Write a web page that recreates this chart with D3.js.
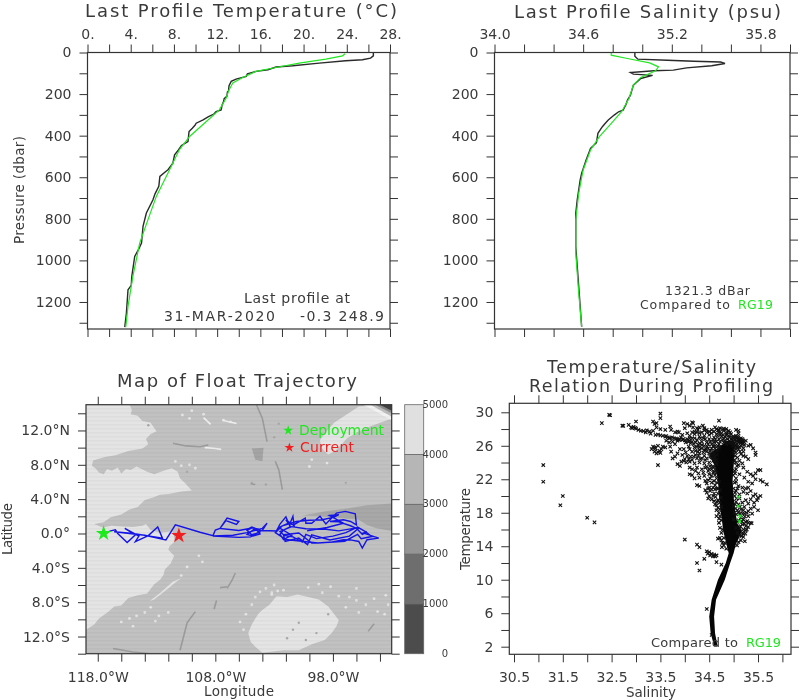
<!DOCTYPE html>
<html><head><meta charset="utf-8">
<script src="https://cdn.jsdelivr.net/npm/d3@7"></script>
<style>
html,body{margin:0;padding:0;background:#fff}
svg{display:block;filter:blur(.35px)}
text{font-family:"DejaVu Sans",sans-serif;fill:#3a3a3a;font-weight:400}
.ax path{display:none}
.ax line{stroke:#333;stroke-width:1}
</style></head><body><svg id="c" width="800" height="700"></svg>
<script>
// ---------- Profile data ----------
const tempObsP=[3,16,27,35,40,51,64,70,83,91,103,108,115,128,139,160,185,190,211,222,235,255,276,284,296,308,324,340,350,364,380,405,428,447,470,492,532,564,570,596,644,680,708,772,836,917,945,981,1077,1120,1141,1253,1321];
const tempObsV=[26.46,26.46,26.2,25.45,23.9,21.45,19,17.45,16.7,15.6,14.8,14.75,14.7,13.75,13.3,13.1,13.05,12.95,12.9,12.65,12.6,12.45,12.37,11.9,11.7,11.2,10.7,10.06,9.95,9.7,9.4,9.35,9.3,8.7,8.4,8.06,7.9,7.45,7.3,6.7,6.6,6.25,6.06,5.45,5.14,5,4.75,4.37,4.1,4.05,3.75,3.6,3.45];
const tempRefP=[6,16,32,51,72,91,120,147,180,220,276,332,404,468,564,692,804,917,1077,1221,1321];
const tempRefV=[23.85,23.6,22.06,19.6,17.45,15.6,14.37,13.45,13.1,12.83,12.2,11,9.45,8.5,7.6,6.37,5.6,4.83,4.2,3.75,3.54];
const salObsP=[0,18,32,37,42,46,53,64,74,85,88,96,104,110,125,157,205,229,250,277,285,301,325,340,357,389,434,461,517,581,613,709,773,933,1029,1125,1320];
const salObsV=[34.95,34.95,34.97,35.17,35.35,35.53,35.56,35.47,35.3,35.21,35.08,34.92,34.94,35.07,34.99,34.94,34.92,34.9,34.89,34.87,34.84,34.81,34.77,34.75,34.73,34.7,34.69,34.65,34.62,34.59,34.58,34.56,34.55,34.55,34.56,34.57,34.59];
const salRefP=[0,13,29,50,69,88,120,157,221,285,349,405,469,565,677,805,965,1157,1320];
const salRefV=[34.79,34.79,34.9,35.05,35.11,35.09,34.99,34.94,34.91,34.86,34.78,34.71,34.65,34.6,34.57,34.55,34.55,34.57,34.59];
const pressureTicks=[0,100,200,300,400,500,600,700,800,900,1000,1100,1200,1300];
const pressureLabels=[0,200,400,600,800,1000,1200];
const tempTicks=[0,2,4,6,8,10,12,14,16,18,20,22,24,26,28];
const tempLabels=[0,4,8,12,16,20,24,28];
const salTicks=[34,34.2,34.4,34.6,34.8,35,35.2,35.4,35.6,35.8,36];
const salLabels=[34,34.6,35.2,35.8];

// ---------- Map data (lon, lat) ----------
const lonTicks=[-118,-116,-114,-112,-110,-108,-106,-104,-102,-100,-98,-96,-94];
const lonLabels=[-118,-108,-98];
const latTicks=[-14,-12,-10,-8,-6,-4,-2,0,2,4,6,8,10,12,14];
const latLabels=[-12,-8,-4,0,4,8,12];
const depthLevels=[0,1000,2000,3000,4000,5000];
const depthShades=["#4c4c4c","#6e6e6e","#959595","#b6b6b6","#e0e0e0"];
const lightWest=[[-119,15],[-115.3,15],[-115.1,14.4],[-115.2,13.9],[-114.6,13.7],[-114.2,13.1],[-113.5,12.9],[-113.2,12.3],[-113,11.9],[-113.5,11.6],[-113.9,11],[-113.7,10.4],[-114.2,9.9],[-115.4,9.6],[-116.5,9.1],[-117.4,8.9],[-118.4,8.5],[-118.5,7.9],[-118.2,7.6],[-117.9,7.1],[-117.5,6.9],[-117.2,7.5],[-116.8,7.3],[-116.3,7.7],[-116,7],[-115.6,7.5],[-115.2,7.4],[-114.7,7.8],[-113.8,7.2],[-113.2,6.9],[-112.4,7.3],[-111.7,7.6],[-111.2,7.2],[-111,6.4],[-110.6,5.9],[-110.2,5.3],[-110,5],[-110.9,4.9],[-112,4.6],[-112.7,4.5],[-113.3,4.2],[-114,3.9],[-114.6,3.1],[-115.3,2.8],[-116,2.2],[-116.9,1.9],[-117.5,1.3],[-118.3,1.1],[-117.6,0.7],[-116.8,.9],[-116,0.8],[-115,.75],[-114.2,0.9],[-113.9,1.1],[-113.5,0.4],[-112.7,.1],[-112,0.2],[-111.6,0.2],[-111.5,-.5],[-111.5,-1],[-111.9,-1.5],[-112,-1.9],[-111.5,-2.6],[-111.8,-3.5],[-112.3,-4.2],[-112.4,-4.8],[-112.7,-5.4],[-113.2,-5.9],[-113.8,-7],[-114.6,-7.2],[-115.4,-7.5],[-116,-8.4],[-116.6,-8.5],[-117.1,-9.1],[-117.9,-9.9],[-118.3,-10.6],[-119,-11.2]];
const lightStreak=[[-110.9,-5.2],[-111.6,-5.6],[-112.6,-6.8],[-113.6,-7.9],[-113.2,-7.7],[-112.2,-6.6],[-111.4,-5.7]];
const lightSouthEast=[[-105.2,-11.6],[-104.9,-10.6],[-104.6,-9.9],[-104.3,-9.3],[-104,-8.9],[-103.4,-8.3],[-102.8,-7.3],[-101.9,-7.4],[-101,-7.1],[-100.1,-7.4],[-99.2,-7.7],[-98.4,-8.5],[-98,-9.2],[-97.5,-10.1],[-97.7,-10.8],[-98.1,-11.6],[-98.7,-12.4],[-99.8,-12.9],[-100.9,-13.6],[-102.2,-13.6],[-104,-13.9],[-104.6,-13.2],[-105,-12.6]];
const lightNorthEast=[[-95.8,14.8],[-96.8,13.9],[-97.9,12.9],[-98.6,11.8],[-99.1,10.9],[-99,10],[-98.4,9.2],[-97.8,9.6],[-97.3,10.3],[-96.8,11.1],[-95.8,11.9],[-94.8,12.5],[-93,13.4],[-93,15]];
const lightSpeckles=[[-104.6,-7.4],[-104.2,-6.8],[-103.7,-6.4],[-103.2,-6.9],[-102.7,-6.7],[-104.9,-8.3],[-105.4,-9.4],[-105.9,-10.3],[-105.6,-11.2],[-103,-6],[-100.1,-6.3],[-99.2,-5.9],[-98.2,-6.2],[-96.6,-7.4],[-96,-7.8],[-95.2,-8.3],[-94.5,-7.6],[-93.5,-7.2],[-93.3,-8.3],[-93.6,-9.4],[-94.2,-9.1],[-96,-6.4],[-109.4,-2.6],[-109.1,-3.3],[-110.4,-3.9],[-110.9,-4.9],[-112,-9.2],[-112.8,-9.6],[-110.8,13.8],[-110.2,13.4],[-110,14.3],[-109,13.9],[-107.3,13.2],[-106.7,13],[-110.9,7.9],[-110.2,8],[-109.7,7.6],[-111.4,8.4],[-98.5,8.2],[-100,7.8],[-99.8,8.6],[-113.5,-8.6],[-114,-9.2],[-114.7,-9.6],[-115.3,-9.9],[-115,-10.8],[-116,-10.3],[-113.1,-10.2],[-103.2,-7.1],[-102.2,-6.6],[-98.9,-6.9],[-97.5,-7.3],[-96.9,-8.6],[-95.8,-9.2]];
const darkSpeckles=[[-100.9,-10.4],[-101.4,-11.2],[-100.3,-12.4],[-101.9,-12.2],[-99.4,-11.6],[-98.4,-9.4],[-113.7,12.6],[-110.4,7.2],[-103.7,5.7],[-104.9,5.9],[-96.9,5.9],[-103,11.2],[-102.6,12.8]];
const basinEast=[[-93,3.5],[-95.1,3.3],[-96.8,2.9],[-98.6,2.6],[-100.6,2.1],[-99.1,2],[-95.8,1.6],[-95.1,1],[-94.3,.6],[-93,.3]];
const ridgeLines=[[[-104.5,15],[-104,13.4],[-103.6,10.7]],[[-102.9,8.4],[-102.6,7.4],[-102.3,5.1]],[[-111.6,10.5],[-110.5,10.2],[-109.3,10.1],[-108.6,10.3]],[[-106.3,-4.6],[-106.6,-5.5],[-107,-6.4]],[[-107.9,-7.8],[-108.1,-8.8]],[[-109.7,-9.1],[-110.4,-10.4],[-111,-13.6]],[[-116.7,-13.4],[-115,-13.8],[-113.5,-14]],[[-94.5,-10.5],[-95,-11.4]],[[-105,5.8],[-104.6,5.7]],[[-107,-6.2],[-107.6,-6.3]]];
const whiteStreaks=[[[-108.9,10],[-108,9.9],[-107.5,9.8]],[[-109,13.5],[-108.4,12.7]],[[-107.4,13.2],[-106.2,12.8]]];
const ridgeBlob=[[-104.9,9.9],[-103.9,10],[-104,8.4],[-104.6,8.6]];
const cornerBands=[[[-95.4,15],[-93,15],[-93,13.2]],[[-94.8,15],[-93,15],[-93,13.6]],[[-94.4,15],[-93,15],[-93,14]],[[-94,15],[-93,15],[-93,14.3]]];
const cornerShades=["#f2f2f2","#bdbdbd","#8a8a8a","#404040"];
const track=[[-117.5,0],[-116.9,.3],[-116.5,.43],[-116.3,0],[-115.5,-1.05],[-114.8,-.15],[-115.7,.6],[-114.5,-.3],[-114.8,-.95],[-113.7,-.25],[-112.9,.75],[-112.5,-.55],[-115,0],[-116.6,.2],[-114,-.2],[-112.2,-.75],[-111.4,1],[-109.3,.15],[-108.2,-.25],[-108,.4],[-107.6,.6],[-107,1.8],[-106,1.4],[-106.2,1.05],[-107.1,1.5],[-107.6,.6],[-106,.35],[-105.2,.55],[-104.9,.75],[-104.6,.6],[-104.3,.1],[-104.9,-.15],[-105.3,.35],[-104.9,.65],[-104.3,.5],[-104.2,-.05],[-104.8,-.3],[-105.3,-.1],[-104.7,.5],[-104.1,.35],[-105,-.4],[-106,-.45],[-108.2,-.3],[-106.5,-.2],[-105.3,.1],[-104,.6],[-103.6,1.2],[-104,.35],[-102.8,.3],[-102.5,1.1],[-102,1.95],[-101.7,1],[-101.4,2],[-101.3,.9],[-102,1.6],[-101.6,.8],[-102.2,.4],[-102.5,-.1],[-102.2,-.7],[-101.5,-.2],[-102.6,.7],[-101.8,1.2],[-101.35,1],[-100.35,1.8],[-100.3,1.2],[-99.8,1.2],[-99.1,2],[-98.6,1.1],[-98.25,1.6],[-97.7,2.38],[-96.95,2.57],[-96.1,2.3],[-96,1],[-96.5,1.4],[-97.1,1.6],[-98.25,1.4],[-97.5,1.35],[-96.5,.9],[-96,.6],[-95.5,-.1],[-95.1,.2],[-95.4,.05],[-94.1,-.54],[-95.1,-.73],[-95.5,-1.7],[-95.8,-.93],[-96.5,-.75],[-97.1,-.73],[-98.25,-1.04],[-99.8,-1.12],[-100.9,.05],[-102.2,-.15],[-102.5,.24],[-101.5,.8],[-100.3,.55],[-98.6,.5],[-97.5,.3],[-96,.65],[-95.8,.63],[-96.6,-.3],[-98.25,-.75],[-99.8,-.15],[-100.16,-1.3],[-100.9,-.54],[-102.06,-.93],[-102.2,-.2],[-101.4,-.4],[-100.6,-1],[-100.3,-.1],[-99.4,-.6],[-98,-.3],[-96.9,.1],[-95.9,.75],[-95.2,.2],[-94.7,-.35],[-95.6,-.6],[-95.9,-.1],[-97,-.9],[-99.3,-1.1],[-102,-.7],[-102.9,.1],[-102.3,.9],[-101.1,1.4],[-100,1.55],[-98.9,1.6],[-97.9,1.9],[-97.5,2.2],[-98.3,2.1],[-97.1,1.2],[-98.5,.7],[-100.2,.3]];
const deployLon=[-117.5], deployLat=[0];
const currentLon=[-111.1], currentLat=[-.25];

// ---------- T/S diagram ----------
const tsSalTicks=[30.5,31,31.5,32,32.5,33,33.5,34,34.5,35,35.5,36];
const tsSalLabels=[30.5,31.5,32.5,33.5,34.5,35.5];
const tsTempTicks=[2,4,6,8,10,12,14,16,18,20,22,24,26,28,30];
const tsTempLabels=[2,6,10,14,18,22,26,30];
const tsCoreT=[2.1,3.6,5.6,7.6,10,12,13.15,14.3,15.1,15.9,16.7,17.9,19.9,21.9,23.5,25,25.6,26,26.6];
const tsCoreLeftS=[34.6,34.53,34.5,34.55,34.68,34.84,34.9,34.85,34.82,34.78,34.77,34.74,34.7,34.68,34.62,34.5,34.64,34.74,34.86];
const tsCoreRightS=[34.67,34.62,34.6,34.64,34.82,34.93,35,35.05,35.12,35.17,35.08,35.04,35,34.98,35,35.02,35.02,35.05,35];
const tsPoints=[[31.1,23.7],[31.1,21.7],[31.5,20],[31.45,18.9],[32,17.4],[32.15,16.85],[32.3,28.7],[32.45,29.7],[32.47,29.65],[33,28.9],[33.35,28.9],[33.5,29.85],[33.5,29.3],[33.42,28.7],[34.7,29],[33.45,23.7],[34,14.8],[34.25,14.2],[34.3,13.9],[34.25,12],[34.3,11.1],[34.4,12.5],[34.65,12.1],[34.75,11.8],[34.68,14.9],[34.75,14.7],[34.45,6.5],[34.55,3.4],[34.45,13.4],[34.5,13.3],[34.55,13.1],[34.6,13],[34.65,12.9],[34.47,13.1],[34.52,12.9],[34.58,12.8],[34.62,12.8],
[32.72,28.4],[32.74,28.38],[32.85,28.5],[32.9,28.2],[32.92,28.1],[32.95,28.25],[32.98,28.15],[33,28.05],[33.05,27.9],[33.1,27.8],[33.15,27.75],[33.2,27.6],[33.22,27.85],[33.28,27.7],[33.3,27.45],[33.35,27.8],[33.4,27.3],[33.42,28.2],[33.45,27.35],[33.5,27.25],[33.5,28],[33.55,27.2],[33.6,27.1],[33.65,27],[33.7,26.95],[33.72,27.9],[33.78,26.9],[33.8,27.6],[33.85,26.8],[33.9,26.75],[33.95,26.7],[34,26.65],[34.05,26.8],[34.1,26.6],[34.15,26.9],[33.85,26.6],[33.92,27],[34.02,26.4],[34.12,26.3],[33.62,27.15],[33.68,26.9],[33.74,27],[33.82,26.85],[33.88,26.7],[33.97,26.8],[34.07,26.5],
[33.32,25.6],[33.35,25.9],[33.38,25.3],[33.4,25.7],[33.42,25.1],[33.45,26],[33.48,25.4],[33.5,25.15],[33.52,25.6],[33.55,25.9],[33.38,25.8],[33.45,25.25],[33.7,25.9],[33.72,25.3],[33.75,24.5],[33.8,24.7],[33.85,25.1],[33.9,25.6],[33.95,24.9],[33.85,23.8],[33.9,23.6],[34,24.4],[34.05,24.8],[34.1,24.1],[34.15,25.3],[34.2,25.8],[34.25,24.5],[34.3,25.1],[34.1,25.6],[34.2,23.9],[34.25,23.4],[34.3,24],[34.35,24.5],[34.35,23.2],[34.1,22.6],[34.15,22.5],[34.2,22.1],[34.3,22.2],[34.25,21.3],[34.3,21.2],[34.4,22.4],[34.45,21.5],[34.5,21],[34.45,20.4],[34.5,20],[34.55,19.6],[34.6,19.4],[34.65,18.9],[34.7,18],[34.55,20.8],[34.6,21.8],[34.48,23],[34.55,22.4],[34.62,23.2],[34.4,24.8],[34.45,25.3],[34.5,24],[34.55,25.7],[34.6,24.5],[34.65,22.1],[34.68,20.3],[34.72,19.2],[34.7,16.8],[34.72,16.2],[34.75,15.6],[34.68,20.9],[34.52,23.6],[34.4,26],[34.35,26.5],[34.3,26.3],[34.25,26.7],[34.2,26.9],[34.18,26.2],[34.45,26.4],[34.5,26.8],[34.55,26.2],[34.6,27],[34.65,26.5],[34.7,26.2],[34.75,27.1],[34.8,26.4],[34.85,27.3],[34.4,27.2],[34.45,27.6],[34.5,27.3],[34.55,27.5],[34.6,27.7],[34.65,27.4],[34.7,27.6],[34.75,27.5],[34.8,27.8],[34.85,27.5],[34.9,27.2],[34.95,27.4],[35,27.1],[35.05,27.2],[35.1,27],[35.12,26.8],[35.15,26.9],[35.18,26.5],[35.2,26.3],[35.18,26.8],[35.12,26.5],[35.08,26.7],[35,26.5],[34.95,26.8],[34.9,26.3],[34.8,26.9],[34.7,26.8],[34.62,28.2],[34.65,28],[34.7,27.9],[34.78,27.95],[34.85,28],[34.9,27.8],[35.05,27.9],[35.1,27.8],[35.1,27.5],[34.72,28.1],[34.68,27.85],[34.8,28.05],
[33.38,28.6],[33.98,28.7],[34.05,28.6],[34.15,28.8],[34.17,28.7],[34.1,28.4],[34.37,28.4],[34.3,28.2],[34.25,28.1],[33.6,27.9],[33.7,28.3],[33.85,27.7],[33.88,27.6],[34,28.1],[34.17,28.2],[34.27,27.9],[34.4,28.1],[34.4,27.85],[34.05,27.5],[34.1,27.2],[34.2,27.4],[34.3,27.1],[34.35,27.6],[33.95,27.3],
[35.3,26],[35.4,25.7],[35.45,25.2],[35.45,24.9],[35.35,26.1],[35.25,26.6],[35.1,25.6],[35.15,25],[35.2,24.8],[35.25,24.7],[35.3,24.4],[35.05,25.2],[35.08,24.6],[35.12,24.2],[35.18,23.9],[35.1,23.7],[35.05,23.2],[35.2,23.4],[35.28,22.9],[35.35,22.6],[35.4,22.4],[35.45,22.7],[35.5,23.1],[35.55,23.1],[35.45,22],[35.55,21.9],[35.6,21.7],[35.68,21.4],[35.38,21.5],[35.3,21.7],[35.22,22.2],[35.12,22.6],[35.05,22.1],[35.1,21.2],[35.18,21],[35.25,20.9],[35.3,21],[35.35,20.6],[35.28,20.3],[35.2,20.5],[35.12,20.2],[35.05,20.6],[35.4,20],[35.45,20.2],[35.5,19.8],[35.55,20],[35.48,19.5],[35.42,19.2],[35.35,19.6],[35.3,19.1],[35.25,19.5],[35.18,19.2],[35.12,19.7],[35.05,19.3],[35,18.8],[35.08,18.3],[35.15,18.4],[35.22,18.7],[35.3,18.2],[35.35,18.5],[35.42,18.7],[35.5,18.3],[35.38,17.9],[35.3,17.6],[35.22,17.9],[35.15,17.4],[35.05,17.8],[35.1,17.1],[35.2,17.2],[35.28,17],[35.35,16.8],[35.37,16.75],[35.18,16.6],[35.25,16.4],[35.08,16.9],[35,17.2],[35.05,16.2],[35.12,16.1],[35.2,16],[35.18,15.6],[35.12,15.3],[35.25,15.9],[35.3,16.3],[35.02,18],[35.03,19],[35.02,20],[35,20.9],[35.02,21.6],[34.99,22.5],[35.02,23],[35,24],[35.03,24.8],[35.05,25.9],[34.98,26],[35,25.2],[34.58,25.3],[34.5,25.1],[34.55,24.9],[34.6,25],[34.45,24.5],[34.52,24.7],[34.62,24.2],[34.65,23.8],[34.6,23.5],[34.65,22.8],[34.62,22.5],[34.7,21.7],[34.72,20.7],[34.74,19.8],[34.75,18.7],[34.72,17.6],[34.75,17.1],[34.78,16],[34.8,15],[34.82,14.4],[34.85,13.7],[35.2,15.5],[35.23,14.6],[35.15,14.7],[35.07,14.1],[34.3,25.5],[34.35,25.7],[34.22,24.9],[34.28,24.8],[34.4,23.9],[34.45,23.5],[34.38,22.8],[34.5,22.6],[34.55,23.2],[34.58,21],[34.6,20.3],[34.62,20.8],[34.48,19.7],[34.68,19.5],[34.65,17.6],[34.02,25.2],[33.98,25.6],[34.08,25.9],[33.8,26.2],[33.75,26.5],[33.68,26.4],[33.62,26.6],[33.6,25.8],
[34.6,26.4],[34.63,26.8],[34.67,27.2],[34.72,26.5],[34.73,27.3],[34.77,26.7],[34.78,27.3],[34.82,26.6],[34.83,27.05],[34.85,26.2],[34.87,26.8],[34.88,27.6],[34.92,26.6],[34.92,27],[34.93,27.6],[34.96,26.3],[34.97,27],[34.98,26.7],[35,26.9],[35.02,26.3],[35.03,26.7],[35.03,27],[35.05,26.5],[35.06,26.9],[35.07,26.2],[35.08,27.1],[35.1,26.4],[35.1,26.75],[35.13,26.65],[35.14,26.3],[35.16,26.6],[35.17,26.2],[35.19,26.65],[35.21,26.5],[35.22,26.1],[35.03,26.05],[35.08,25.9],[35.12,25.85],[35.15,26],[35.2,25.7],[35.05,25.6],[35.02,25.45],[35.13,25.3],[35.2,25.3],[35.02,24.3],[35.05,24],[35.07,23.6],[35.03,22.7],[35.05,21.7],[35.08,20.9],[35.03,20.4],[35.04,18.5],[35.1,18],[35.06,19.7],[35.1,19],[35.13,18.7],[35.18,17.9],[35.13,17.9],[35.17,16.95],[35.23,17.55],[35.27,18],[35.2,18.3],[35.25,16.9],[35.3,16.8],[35.14,16.4],[35.22,16.7],[35.24,15.5],[35.2,15.1],[35.16,15.2],[35.08,15.6],[35.1,14.5],[35.27,16],
[34.62,25.7],[34.66,25.4],[34.7,25.6],[34.72,25.9],[34.55,24.6],[34.58,24.2],[34.62,24.7],[34.65,24.3],[34.66,24.9],[34.52,25.4],[34.48,25.7],[34.43,25.6],[34.38,25.2],[34.42,24.3],[34.32,24.4],[34.27,25.3],[34.22,25.4],[34.18,24.7],[34.15,24.3],[34.12,24.7],[34.08,24.4],[34.03,24],[33.98,24.2],[33.93,24.1],[34.1,23.4],[34.15,23.2],[34.22,23],[34.28,22.7],[34.42,23.4],[34.5,23.2],[34.57,23.5],[34.58,22.8],[34.6,22.9],[34.52,22.1],[34.48,21.9],[34.42,21.8],[34.55,21.6],[34.62,21.3],[34.66,21.6],[34.65,20.9],[34.52,20.6],[34.48,20.9],[34.42,20.7],[34.58,20],[34.63,19.9],[34.66,19.3],[34.62,19],[34.68,18.6],[34.65,18.3],[34.72,18.4],[34.7,17.3],[34.72,15],[34.77,14.4],[34.8,14.1],[34.76,13.9],
[34.2,27.7],[34.25,27.6],[34.3,27.5],[34.15,27.6],[34.45,27.9],[34.5,27.7],[34.55,27.9],[34.42,26.8],[34.48,26.2],[34.52,26.5],[34.58,26.7],[34.32,26.9],[34.38,26.9],[34.28,26.1],[34.22,26.4],[34.15,26.5],[34.1,26.9],[34.25,25.9],[34.3,25.8],[34.4,25.5],[34.46,25.9],[34.35,26.1],[34.62,26],[34.68,25.95],[34.58,25.95]];
const tsRefPoints=[[35.1,18.8],[35.13,17.6],[35.1,19.9],[35.12,17]];

// ---------- Drawing ----------
const svg=d3.select("#c");
const fmt=(labels,f)=>d=>labels.some(l=>Math.abs(l-d)<1e-6)?f(d):"";
function axes(g,x,y,xt,xf,yt,yf,topLabels,bottomLabels){
  const l=d3.min(x.range()),r=d3.max(x.range()),t=d3.min(y.range()),b=d3.max(y.range());
  const none=()=>"";
  const mk=(a,tr,vals,f,pad)=>{const s=g.append("g").attr("class","ax").attr("transform",tr).call(a.tickValues(vals).tickFormat(f).tickSizeOuter(0).tickPadding(pad));s.selectAll("text").style("font-size","14px");return s;};
  mk(d3.axisTop(x).tickSize(8),`translate(0,${t})`,xt,topLabels?xf:none,6);
  mk(d3.axisBottom(x).tickSize(8),`translate(0,${b})`,xt,bottomLabels?xf:none,10);
  mk(d3.axisLeft(y).tickSize(8),`translate(${l},0)`,yt,yf,8);
  mk(d3.axisRight(y).tickSize(8),`translate(${r},0)`,yt,none,0);
  g.append("rect").attr("x",l).attr("y",t).attr("width",r-l).attr("height",b-t).attr("fill","none").attr("stroke","#333").attr("stroke-width",1.2);
}
function label(t,x,y,size,w,col,anchor,rot){
  const e=svg.append("text").attr("x",x).attr("y",y).attr("text-anchor",anchor||"start").style("font-size",size+"px").text(t);
  if(w)e.attr("textLength",w).attr("lengthAdjust","spacing");
  if(col)e.style("fill",col);
  if(rot)e.attr("transform",`rotate(${rot} ${x} ${y})`);
  return e;
}
function profile(x,y,series){
  series.forEach(s=>{
    const line=d3.line().x((d,i)=>x(s.v[i])).y(d=>y(d));
    svg.append("path").datum(s.p).attr("d",line).attr("fill","none").attr("stroke",s.c).attr("stroke-width",s.w);
  });
}

// Panel 1
const x1=d3.scaleLinear().domain([0,28]).range([87.5,390]);
const y1=d3.scaleLinear().domain([0,1330]).range([52.5,329]);
profile(x1,y1,[{p:tempObsP,v:tempObsV,c:"#2a2a2a",w:1.4},{p:tempRefP,v:tempRefV,c:"#22e622",w:1.2}]);
axes(svg.append("g"),x1,y1,tempTicks,fmt(tempLabels,d=>d+"."),pressureTicks,fmt(pressureLabels,d=>d),true,false);
label("Last Profile Temperature (°C)",85,17,18,312);
label("Pressure (dbar)",24,190,13.5,108,null,"middle",-90);
label("Last profile at",244,303,14,106);
label("31-MAR-2020",164,320.5,14,111);
label("-0.3 248.9",300,320.5,14,84);

// Panel 2
const x2=d3.scaleLinear().domain([34,36]).range([494.5,790]);
const y2=d3.scaleLinear().domain([0,1330]).range([52.5,329]);
profile(x2,y2,[{p:salObsP,v:salObsV,c:"#2a2a2a",w:1.4},{p:salRefP,v:salRefV,c:"#22e622",w:1.2}]);
axes(svg.append("g"),x2,y2,salTicks,fmt(salLabels,d3.format(".1f")),pressureTicks,fmt(pressureLabels,d=>d),true,false);
label("Last Profile Salinity (psu)",514,18,18,267);
label("1321.3 dBar",665,295,12.5,85);
label("Compared to",640,309,12.5,90);
label("RG19",738,309,12.5,35,"#22e622");

// Map
const mx=d3.scaleLinear().domain([-119,-93]).range([86,391.7]);
const my=d3.scaleLinear().domain([-14,15]).range([653.7,404.7]);
const defs=svg.append("defs");
defs.append("clipPath").attr("id","mapClip").append("rect").attr("x",mx(-119)).attr("y",my(15)).attr("width",mx(-93)-mx(-119)).attr("height",my(-14)-my(15));
const pat=defs.append("pattern").attr("id","rows").attr("patternUnits","userSpaceOnUse").attr("width",8).attr("height",4);
pat.append("rect").attr("width",8).attr("height",1.4).attr("fill","#000").attr("opacity",.03);
const mg=svg.append("g").attr("clip-path","url(#mapClip)");
const geo=d3.line().x(d=>mx(d[0])).y(d=>my(d[1]));
const poly=(pts,f)=>mg.append("path").attr("d",geo(pts)+"Z").attr("fill",f);
mg.append("rect").attr("x",86).attr("y",404.7).attr("width",306).attr("height",249).attr("fill","#c1c1c1");
poly(lightWest,"#e4e4e4");poly(lightStreak,"#e4e4e4");poly(lightSouthEast,"#e4e4e4");poly(lightNorthEast,"#e4e4e4");
mg.selectAll("circle.sp").data(lightSpeckles).join("circle").attr("class","sp").attr("cx",d=>mx(d[0])).attr("cy",d=>my(d[1])).attr("r",1.4).attr("fill","#e4e4e4");
mg.selectAll("circle.dk").data(darkSpeckles).join("circle").attr("class","dk").attr("cx",d=>mx(d[0])).attr("cy",d=>my(d[1])).attr("r",1.2).attr("fill","#a8a8a8");
poly(basinEast,"#a8a8a8");poly(ridgeBlob,"#a4a4a4");
ridgeLines.forEach(r=>mg.append("path").attr("d",geo(r)).attr("fill","none").attr("stroke","#9c9c9c").attr("stroke-width",1.6));
whiteStreaks.forEach(r=>mg.append("path").attr("d",geo(r)).attr("fill","none").attr("stroke","#efefef").attr("stroke-width",1.6));
cornerBands.forEach((b,i)=>poly(b,cornerShades[i]));
mg.append("rect").attr("x",86).attr("y",404.7).attr("width",306).attr("height",249).attr("fill","url(#rows)");
mg.append("path").datum(track).attr("d",geo).attr("fill","none").attr("stroke","#1414e6").attr("stroke-width",1.4);
const star=s=>d3.symbol().type(d3.symbolStar).size(s)();
const mark=(lon,lat,s,c)=>svg.append("path").attr("d",star(s)).attr("transform",`translate(${mx(lon)},${my(lat)})`).attr("fill",c);
mark(deployLon[0],deployLat[0],75,"#1ee81e");
mark(currentLon[0],currentLat[0],75,"#f01e1e");
mark(-101.8,12,30,"#1ee81e");
mark(-101.7,10,30,"#f01e1e");
label("Deployment",299,435,14,85,"#1ee81e");
label("Current",300,452,14,54,"#f01e1e");
axes(svg.append("g"),mx,my,lonTicks,fmt(lonLabels,d=>Math.abs(d).toFixed(1)+"°W"),latTicks,fmt(latLabels,d=>d===0?"0.0°":Math.abs(d).toFixed(1)+(d>0?"°N":"°S")),false,true);
label("Map of Float Trajectory",117,387,18,240);
label("Longitude",239,696,13.5,70,null,"middle");
label("Latitude",12,529,13.5,52,null,"middle",-90);
// colour bar
const cb=d3.scaleLinear().domain([0,5000]).range([653.7,404.7]);
svg.selectAll("rect.cb").data(depthShades).join("rect").attr("class","cb").attr("x",404.7).attr("width",19)
  .attr("y",(d,i)=>cb(depthLevels[i+1])).attr("height",(d,i)=>cb(depthLevels[i])-cb(depthLevels[i+1])).attr("fill",d=>d).attr("stroke","#666").attr("stroke-width",.8);
depthLevels.forEach(v=>label(v,448,cb(v)+3,10,null,null,"end"));

// T/S
const tx=d3.scaleLinear().domain([30.5,35.5]).range([514,758]);
const ty=d3.scaleLinear().domain([2,30]).range([646.7,412.3]);
const L=tx.invert(509.3),R=tx.invert(791),B=ty.invert(654.3),T=ty.invert(403.3);
tx.domain([L,R]).range([509.3,791]);ty.domain([B,T]).range([654.3,403.3]);
const core=tsCoreT.map((t,i)=>[tsCoreLeftS[i],t]).concat(tsCoreT.map((t,i)=>[tsCoreRightS[i],t]).reverse());
svg.append("path").attr("d",d3.line().x(d=>tx(d[0])).y(d=>ty(d[1]))(core)+"Z").attr("fill","#050505");
const xm=(sel,c)=>sel.attr("d","M-1.7-1.7L1.7 1.7M-1.7 1.7L1.7-1.7").attr("fill","none").attr("stroke",c).attr("stroke-width",1.1)
  .attr("transform",d=>`translate(${tx(d[0])},${ty(d[1])})`);
xm(svg.selectAll("path.pt").data(tsPoints).join("path").attr("class","pt"),"#111");
xm(svg.selectAll("path.ref").data(tsRefPoints).join("path").attr("class","ref"),"#22e622");
axes(svg.append("g"),tx,ty,tsSalTicks,fmt(tsSalLabels,d3.format(".1f")),tsTempTicks,fmt(tsTempLabels,d=>d),false,true);
label("Temperature/Salinity",547,373,17.5,209);
label("Relation During Profiling",529,392,17.5,244);
label("Temperature",470,529,13.5,82,null,"middle",-90);
label("Salinity",651,697,13.5,50,null,"middle");
label("Compared to",651,647,13,87);
label("RG19",746,647,13,35,"#22e622");
</script></body></html>
